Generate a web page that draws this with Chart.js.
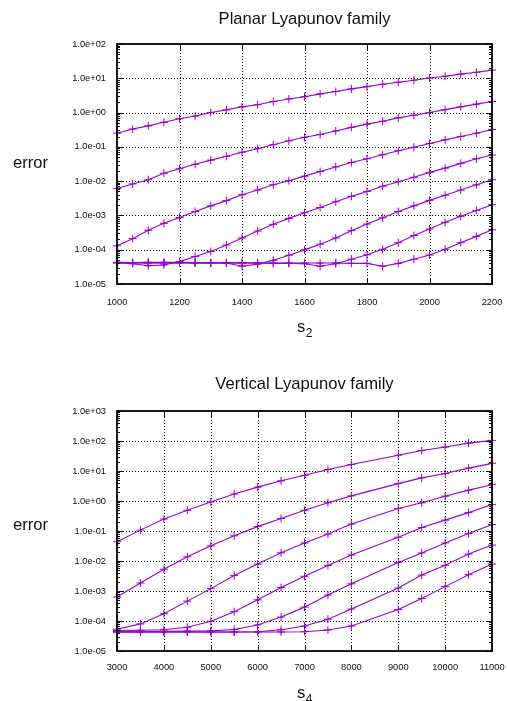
<!DOCTYPE html>
<html>
<head>
<meta charset="utf-8">
<script src="https://cdn.jsdelivr.net/npm/chart.js@4.4.1/dist/chart.umd.min.js"></script>
<style>
  html, body { margin: 0; padding: 0; background: #fff; }
  #wrap { position: relative; width: 507px; height: 701px; overflow: hidden;
          font-family: "Liberation Sans", Arial, Helvetica, sans-serif; color: #111; }
  .panel { position: absolute; left: 0; width: 507px; }
  .txt { position: absolute; white-space: nowrap; line-height: 1; font-size: 16.6px; }
  .ttl { left: 117px; width: 375px; text-align: center; }
  .sub { font-size: 12px; position: relative; top: 5px; margin-left: 0.5px; }
</style>
</head>
<body>
<div id="wrap">
  <div class="panel" style="top:0;height:350px"><canvas id="planar" width="507" height="350"></canvas></div>
  <div class="panel" style="top:350px;height:351px"><canvas id="vertical" width="507" height="351"></canvas></div>

  <div class="txt ttl" style="top:11px">Planar Lyapunov family</div>
  <div class="txt" style="left:13px;top:155px">error</div>
  <div class="txt" style="left:297px;top:318.5px">s<span class="sub">2</span></div>

  <div class="txt ttl" style="top:375.8px">Vertical Lyapunov family</div>
  <div class="txt" style="left:13px;top:516.5px">error</div>
  <div class="txt" style="left:297px;top:685px">s<span class="sub">4</span></div>
</div>

<script>
// ---- Planar Lyapunov family: error against s2 ----
const planarS2 = [1000, 1050, 1100, 1150, 1200, 1250, 1300, 1350, 1400, 1450, 1500, 1550, 1600,
                  1650, 1700, 1750, 1800, 1850, 1900, 1950, 2000, 2050, 2100, 2150, 2200];
const planarErr1 = [0.25, 0.33, 0.41, 0.52, 0.66, 0.79, 1.0, 1.2, 1.47, 1.7, 2.1, 2.5, 2.9,
                    3.5, 4.1, 4.9, 5.7, 6.7, 7.7, 8.8, 10.2, 11.5, 13.2, 15, 17.3];
const planarErr2 = [0.0061, 0.0083, 0.011, 0.017, 0.023, 0.031, 0.041, 0.053, 0.07, 0.088, 0.115, 0.15, 0.19,
                    0.23, 0.29, 0.37, 0.46, 0.56, 0.70, 0.84, 1.0, 1.22, 1.47, 1.76, 2.1];
const planarErr3 = [1.3e-4, 2.1e-4, 3.7e-4, 5.9e-4, 8.7e-4, 1.3e-3, 1.9e-3, 2.7e-3, 4.0e-3, 5.5e-3, 7.8e-3, 1.03e-2, 1.4e-2,
                    1.9e-2, 2.6e-2, 3.5e-2, 4.5e-2, 5.9e-2, 7.7e-2, 0.097, 0.125, 0.16, 0.2, 0.25, 0.32];
const planarErr4 = [4.2e-5, 3.9e-5, 3.4e-5, 3.6e-5, 4.5e-5, 6.3e-5, 8.9e-5, 1.37e-4, 2.2e-4, 3.5e-4, 5.5e-4, 8.2e-4, 1.2e-3,
                    1.7e-3, 2.5e-3, 3.6e-3, 5.0e-3, 7.1e-3, 9.6e-3, 1.3e-2, 1.8e-2, 2.4e-2, 3.3e-2, 4.5e-2, 5.8e-2];
const planarErr5 = [4.3e-5, 4.2e-5, 4.3e-5, 4.3e-5, 4.3e-5, 4.2e-5, 4.2e-5, 4.1e-5, 3.3e-5, 3.8e-5, 4.9e-5, 6.9e-5, 9.9e-5,
                    1.45e-4, 2.2e-4, 3.6e-4, 5.6e-4, 8.5e-4, 1.3e-3, 1.9e-3, 2.75e-3, 3.9e-3, 5.5e-3, 7.8e-3, 1.1e-2];
const planarErr6 = [4.2e-5, 4.2e-5, 4.1e-5, 4.2e-5, 4.2e-5, 4.1e-5, 4.1e-5, 4.2e-5, 4.1e-5, 4.1e-5, 4.0e-5, 4.0e-5, 3.9e-5,
                    3.3e-5, 3.9e-5, 5.3e-5, 7.1e-5, 1.03e-4, 1.6e-4, 2.6e-4, 4.0e-4, 6.3e-4, 9.4e-4, 1.4e-3, 2.05e-3];
const planarErr7 = [4.1e-5, 4.1e-5, 4.2e-5, 4.1e-5, 4.1e-5, 4.2e-5, 4.1e-5, 4.1e-5, 4.2e-5, 4.1e-5, 4.1e-5, 4.1e-5, 4.1e-5,
                    4.1e-5, 4.1e-5, 4.0e-5, 4.0e-5, 3.3e-5, 4.0e-5, 5.3e-5, 7.0e-5, 1.03e-4, 1.6e-4, 2.45e-4, 3.8e-4];
const planarXTicks = [1000, 1200, 1400, 1600, 1800, 2000, 2200];
const planarYTicks = [1e-5, 1e-4, 1e-3, 1e-2, 1e-1, 1e0, 1e1, 1e2];

// ---- Vertical Lyapunov family: error against s4 ----
const verticalS4 = [3000, 3500, 4000, 4500, 5000, 5500, 6000, 6500, 7000, 7500, 8000,
                    9000, 9500, 10000, 10500, 11000];
const verticalErr1 = [0.044, 0.107, 0.25, 0.49, 0.93, 1.7, 2.9, 4.7, 7.2, 11.2, 16.4, 33.5, 48, 63, 85, 105];
const verticalErr2 = [6.3e-4, 1.85e-3, 5.3e-3, 0.0138, 0.032, 0.069, 0.14, 0.26, 0.49, 0.87, 1.48, 3.8, 5.9, 8.2, 12.5, 18];
const verticalErr3 = [5.3e-5, 8e-5, 1.75e-4, 4.6e-4, 1.2e-3, 3.3e-3, 7.9e-3, 0.0188, 0.04, 0.079, 0.17, 0.56, 0.87, 1.44, 2.3, 3.5];
const verticalErr4 = [4.8e-5, 4.9e-5, 5.1e-5, 6.2e-5, 9.8e-5, 2.05e-4, 5.1e-4, 1.3e-3, 3.1e-3, 7.1e-3, 0.0158, 0.062, 0.13, 0.23, 0.41, 0.76];
const verticalErr5 = [4.4e-5, 4.4e-5, 4.5e-5, 4.6e-5, 4.7e-5, 5.2e-5, 7.4e-5, 1.35e-4, 2.9e-4, 7.3e-4, 1.74e-3, 8.9e-3, 0.0186, 0.04, 0.083, 0.165];
const verticalErr6 = [4.3e-5, 4.3e-5, 4.3e-5, 4.3e-5, 4.3e-5, 4.3e-5, 4.4e-5, 5.1e-5, 6.8e-5, 1.15e-4, 2.5e-4, 1.25e-3, 3.4e-3, 7.2e-3, 0.017, 0.034];
const verticalErr7 = [4.3e-5, 4.3e-5, 4.3e-5, 4.3e-5, 4.3e-5, 4.3e-5, 4.3e-5, 4.3e-5, 4.4e-5, 5.0e-5, 6.8e-5, 2.4e-4, 5.6e-4, 1.4e-3, 3.5e-3, 7.9e-3];
const verticalXTicks = [3000, 4000, 5000, 6000, 7000, 8000, 9000, 10000, 11000];
const verticalYTicks = [1e-5, 1e-4, 1e-3, 1e-2, 1e-1, 1e0, 1e1, 1e2, 1e3];

const LINE_COLOR = '#9400d3';
const TICK_FONT = { family: '"Liberation Sans", Arial, Helvetica, sans-serif', size: 9.3 };

// gnuplot-style exponent labels: 1.0e-05, 1.0e+02
function expLabel(v) {
  const e = Math.round(Math.log10(v));
  const m = v / Math.pow(10, e);
  return m.toFixed(1) + 'e' + (e < 0 ? '-' : '+') + String(Math.abs(e)).padStart(2, '0');
}

// Dotted grid behind the curves, then the box, major and minor tics on top.
const frame = {
  id: 'frame',
  beforeDatasetsDraw(chart, args, opts) {
    const { ctx, chartArea: a, scales: { x, y } } = chart;
    ctx.save();
    ctx.strokeStyle = '#000';
    ctx.lineWidth = 1;
    ctx.setLineDash([1, 2]);
    ctx.beginPath();
    opts.xTicks.slice(1, -1).forEach(v => {
      const px = Math.round(x.getPixelForValue(v)) + 0.5;
      ctx.moveTo(px, a.top); ctx.lineTo(px, a.bottom);
    });
    opts.yTicks.slice(1, -1).forEach(v => {
      const py = Math.round(y.getPixelForValue(v)) + 0.5;
      ctx.moveTo(a.left, py); ctx.lineTo(a.right, py);
    });
    ctx.stroke();
    ctx.restore();
  },
  afterDatasetsDraw(chart, args, opts) {
    const { ctx, chartArea: a, scales: { x, y } } = chart;
    ctx.save();
    ctx.strokeStyle = '#000';
    ctx.lineWidth = 1;
    ctx.beginPath();
    const major = 6, minor = 3;
    opts.xTicks.forEach(v => {
      const px = Math.round(x.getPixelForValue(v)) + 0.5;
      ctx.moveTo(px, a.bottom); ctx.lineTo(px, a.bottom - major);
      ctx.moveTo(px, a.top); ctx.lineTo(px, a.top + major);
    });
    opts.yTicks.forEach((v, i) => {
      const py = Math.round(y.getPixelForValue(v)) + 0.5;
      ctx.moveTo(a.left, py); ctx.lineTo(a.left + major, py);
      ctx.moveTo(a.right, py); ctx.lineTo(a.right - major, py);
      if (i < opts.yTicks.length - 1) {
        for (let m = 2; m <= 9; m++) {
          const pm = Math.round(y.getPixelForValue(m * v)) + 0.5;
          ctx.moveTo(a.left, pm); ctx.lineTo(a.left + minor, pm);
          ctx.moveTo(a.right, pm); ctx.lineTo(a.right - minor, pm);
        }
      }
    });
    ctx.stroke();
    ctx.lineWidth = 1.8;
    ctx.strokeRect(a.left, a.top, a.right - a.left, a.bottom - a.top);
    ctx.restore();
  }
};

function makeSeries(xs, ys) {
  return {
    data: xs.map((v, i) => ({ x: v, y: ys[i] })),
    borderColor: LINE_COLOR,
    backgroundColor: LINE_COLOR,
    borderWidth: 1.1,
    pointStyle: 'cross',
    pointRadius: 4,
    pointBorderWidth: 1,
    pointBorderColor: LINE_COLOR,
    tension: 0,
    clip: false
  };
}

// Label offsets go through the (undrawn) tick length so they do not widen the side padding.
function makeChart(id, xs, series, xTicks, yTicks, pad, xLabelGap) {
  return new Chart(document.getElementById(id), {
    type: 'line',
    data: { datasets: series.map(s => makeSeries(xs, s)) },
    plugins: [frame],
    options: {
      responsive: false,
      animation: false,
      devicePixelRatio: 1,
      events: [],
      layout: { padding: pad },
      plugins: { legend: { display: false }, tooltip: { enabled: false }, frame: { xTicks, yTicks } },
      scales: {
        x: {
          type: 'linear',
          min: xTicks[0], max: xTicks[xTicks.length - 1],
          afterBuildTicks: s => { s.ticks = xTicks.map(v => ({ value: v })); },
          afterFit: s => { s.height = 30; },
          grid: { display: false, drawTicks: true, tickLength: xLabelGap },
          border: { display: false },
          ticks: { font: TICK_FONT, color: '#111', padding: 0, maxRotation: 0, minRotation: 0,
                   autoSkip: false, callback: v => String(v) }
        },
        y: {
          type: 'logarithmic',
          min: yTicks[0], max: yTicks[yTicks.length - 1],
          afterBuildTicks: s => { s.ticks = yTicks.map(v => ({ value: v })); },
          afterFit: s => { s.width = 117; },
          grid: { display: false, drawTicks: true, tickLength: 11 },
          border: { display: false },
          ticks: { font: TICK_FONT, color: '#111', padding: 0, autoSkip: false, callback: v => expLabel(v) }
        }
      }
    }
  });
}

makeChart('planar', planarS2,
  [planarErr1, planarErr2, planarErr3, planarErr4, planarErr5, planarErr6, planarErr7],
  planarXTicks, planarYTicks, { top: 44, left: 0, right: 15, bottom: 36 }, 13);

makeChart('vertical', verticalS4,
  [verticalErr1, verticalErr2, verticalErr3, verticalErr4, verticalErr5, verticalErr6, verticalErr7],
  verticalXTicks, verticalYTicks, { top: 61, left: 0, right: 15, bottom: 20 }, 11);
</script>
</body>
</html>
